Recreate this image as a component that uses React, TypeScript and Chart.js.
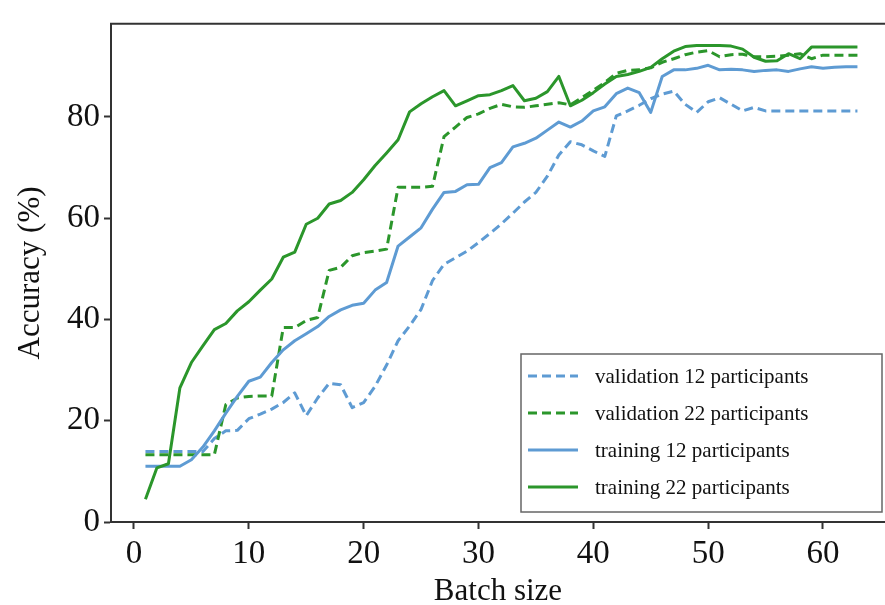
import React, { useEffect, useRef } from "react";
import { Chart, registerables } from "chart.js";

Chart.register(...registerables);

// ---- data ----
const batchSizes = [
  1, 2, 3, 4, 5, 6, 7, 8, 9, 10, 11, 12, 13, 14, 15, 16, 17, 18, 19, 20, 21,
  22, 23, 24, 25, 26, 27, 28, 29, 30, 31, 32, 33, 34, 35, 36, 37, 38, 39, 40,
  41, 42, 43, 44, 45, 46, 47, 48, 49, 50, 51, 52, 53, 54, 55, 56, 57, 58, 59,
  60, 61, 62, 63,
];

const validation12 = [
  13.9, 13.9, 13.9, 13.9, 13.9, 13.9, 16.5, 18.0, 18.1, 20.4, 21.3, 22.3, 23.6,
  25.5, 21.0, 24.5, 27.4, 27.1, 22.6, 23.6, 26.8, 31.0, 35.8, 38.7, 42.0, 47.7,
  50.9, 52.2, 53.5, 55.2, 57.0, 58.9, 61.0, 63.2, 65.1, 68.3, 72.5, 75.1, 74.5,
  73.3, 72.2, 80.2, 81.2, 82.3, 83.6, 84.5, 85.1, 82.5, 80.9, 83.0, 83.8, 82.5,
  81.2, 81.9, 81.2, 81.2, 81.2, 81.2, 81.2, 81.2, 81.2, 81.2, 81.2,
];

const validation22 = [
  13.3, 13.3, 13.3, 13.3, 13.3, 13.3, 13.3, 23.2, 24.5, 24.8, 24.9, 24.9, 38.4,
  38.4, 39.8, 40.4, 49.7, 50.3, 52.6, 53.2, 53.5, 53.9, 66.1, 66.1, 66.1, 66.3,
  76.1, 78.0, 79.9, 80.6, 81.7, 82.5, 82.0, 81.9, 82.2, 82.5, 82.8, 82.4, 83.8,
  85.3, 86.8, 88.6, 89.2, 89.3, 89.7, 90.8, 91.5, 92.3, 92.8, 93.1, 91.9, 92.3,
  92.4, 91.9, 91.9, 92.0, 92.2, 92.5, 91.5, 92.2, 92.2, 92.2, 92.2,
];

const training12 = [
  11.0, 11.0, 11.0, 11.0, 12.3, 14.8, 18.0, 21.5, 24.8, 27.8, 28.6, 31.5, 34.0,
  35.8, 37.2, 38.6, 40.6, 41.9, 42.8, 43.2, 45.8, 47.3, 54.5, 56.3, 58.1, 61.8,
  65.1, 65.3, 66.6, 66.7, 70.0, 71.0, 74.1, 74.8, 75.8, 77.4, 79.0, 78.0, 79.2,
  81.2, 82.0, 84.6, 85.7, 84.8, 80.9, 88.0, 89.3, 89.3, 89.6, 90.2, 89.3, 89.4,
  89.3, 89.0, 89.2, 89.3, 89.0, 89.5, 89.9, 89.6, 89.8, 89.9, 89.9,
];

const training22 = [
  4.5, 10.7, 11.5, 26.5, 31.5, 34.8, 38.0, 39.2, 41.7, 43.5, 45.8, 48.0, 52.3,
  53.3, 58.8, 60.0, 62.8, 63.5, 65.1, 67.6, 70.4, 72.9, 75.5, 81.0, 82.6, 84.0,
  85.2, 82.2, 83.2, 84.2, 84.4, 85.2, 86.2, 83.2, 83.7, 85.0, 88.0, 82.2, 83.3,
  84.8, 86.5, 88.0, 88.4, 89.0, 89.8, 91.5, 93.0, 93.9, 94.1, 94.1, 94.1, 94.0,
  93.4, 91.8, 91.0, 91.1, 92.5, 91.5, 93.8, 93.8, 93.8, 93.8, 93.8,
];

const seriesLabels = [
  "validation 12 participants",
  "validation 22 participants",
  "training 12 participants",
  "training 22 participants",
];

const xTickValues = [0, 10, 20, 30, 40, 50, 60];
const yTickValues = [0, 20, 40, 60, 80];

const xTitle = "Batch size";
const yTitle = "Accuracy (%)";

// ---- styles ----
const BLUE = "#5e9bd3";
const GREEN = "#2b962b";
const AXIS = "#333333";
const FONT = "'Liberation Serif', 'Times New Roman', serif";

const toPoints = (ys: number[]) => batchSizes.map((x, i) => ({ x, y: ys[i] }));

const framePlugin = {
  id: "topFrame",
  afterDraw(chart: any) {
    const { ctx, chartArea } = chart;
    ctx.save();
    ctx.strokeStyle = AXIS;
    ctx.lineWidth = 2;
    ctx.beginPath();
    ctx.moveTo(chartArea.left - 1, chartArea.top);
    ctx.lineTo(chartArea.right, chartArea.top);
    ctx.stroke();
    ctx.restore();
  },
};

const legendPlugin = {
  id: "boxLegend",
  afterDraw(chart: any) {
    const { ctx } = chart;
    const boxL = 521;
    const boxT = 354;
    const boxR = 882;
    const boxB = 512;
    ctx.save();
    ctx.fillStyle = "#ffffff";
    ctx.fillRect(boxL, boxT, boxR - boxL, boxB - boxT);
    ctx.strokeStyle = "#666666";
    ctx.lineWidth = 1.5;
    ctx.strokeRect(boxL, boxT, boxR - boxL, boxB - boxT);
    const rowYs = [376, 413, 450, 487];
    chart.data.datasets.forEach((ds: any, i: number) => {
      const y = rowYs[i];
      ctx.beginPath();
      ctx.strokeStyle = ds.borderColor;
      ctx.lineWidth = ds.borderWidth;
      ctx.setLineDash(ds.borderDash || []);
      ctx.moveTo(528, y);
      ctx.lineTo(578, y);
      ctx.stroke();
      ctx.setLineDash([]);
      ctx.fillStyle = "#111111";
      ctx.font = `21px ${FONT}`;
      ctx.textAlign = "left";
      ctx.textBaseline = "middle";
      ctx.fillText(ds.label, 595, y + 1);
    });
    ctx.restore();
  },
};

export default function App() {
  const canvasRef = useRef<HTMLCanvasElement | null>(null);

  useEffect(() => {
    if (!canvasRef.current) return;
    const chart = new Chart(canvasRef.current, {
      type: "line",
      data: {
        datasets: [
          {
            label: seriesLabels[0],
            data: toPoints(validation12),
            borderColor: BLUE,
            borderWidth: 3,
            borderDash: [9, 5],
            pointRadius: 0,
            order: 4,
          },
          {
            label: seriesLabels[1],
            data: toPoints(validation22),
            borderColor: GREEN,
            borderWidth: 3,
            borderDash: [9, 5],
            pointRadius: 0,
            order: 3,
          },
          {
            label: seriesLabels[2],
            data: toPoints(training12),
            borderColor: BLUE,
            borderWidth: 3,
            pointRadius: 0,
            order: 2,
          },
          {
            label: seriesLabels[3],
            data: toPoints(training22),
            borderColor: GREEN,
            borderWidth: 3,
            pointRadius: 0,
            order: 1,
          },
        ],
      },
      options: {
        responsive: false,
        animation: false,
        devicePixelRatio: 1,
        layout: { padding: { top: 13, left: 0, right: 0, bottom: 0 } },
        elements: { line: { tension: 0, borderCapStyle: "butt", borderJoinStyle: "round" } },
        plugins: {
          legend: { display: false },
          tooltip: { enabled: false },
        },
        scales: {
          x: {
            type: "linear",
            min: -2,
            max: 65.4,
            afterBuildTicks: (scale: any) => {
              scale.ticks = xTickValues.map((v) => ({ value: v }));
            },
            afterFit: (scale: any) => {
              scale.height = 83;
            },
            grid: {
              drawOnChartArea: false,
              drawTicks: true,
              tickLength: 7,
              tickWidth: 2,
              tickColor: AXIS,
            },
            border: { display: true, color: AXIS, width: 2 },
            ticks: {
              color: "#111111",
              padding: 6,
              maxRotation: 0,
              autoSkip: false,
              font: { family: FONT, size: 33 },
            },
            title: {
              display: true,
              text: xTitle,
              color: "#111111",
              font: { family: FONT, size: 31, lineHeight: 0.87 },
              padding: { top: 0, bottom: 0 },
            },
          },
          y: {
            type: "linear",
            min: 0,
            max: 98.4,
            afterBuildTicks: (scale: any) => {
              scale.ticks = yTickValues.map((v) => ({ value: v }));
            },
            afterFit: (scale: any) => {
              scale.width = 111;
            },
            grid: {
              drawOnChartArea: false,
              drawTicks: true,
              tickLength: 7,
              tickWidth: 2,
              tickColor: AXIS,
            },
            border: { display: true, color: AXIS, width: 2 },
            ticks: {
              color: "#111111",
              padding: 4,
              autoSkip: false,
              font: { family: FONT, size: 33 },
            },
            title: {
              display: true,
              text: yTitle,
              color: "#111111",
              font: { family: FONT, size: 31, lineHeight: 1.2 },
              padding: { top: 12, bottom: 0 },
            },
          },
        },
      },
      plugins: [framePlugin, legendPlugin],
    } as any);
    return () => chart.destroy();
  }, []);

  return (
    <div style={{ position: "fixed", left: 0, top: 0, width: 885, height: 605, background: "#ffffff" }}>
      <canvas ref={canvasRef} width={885} height={605} style={{ display: "block" }} />
    </div>
  );
}
